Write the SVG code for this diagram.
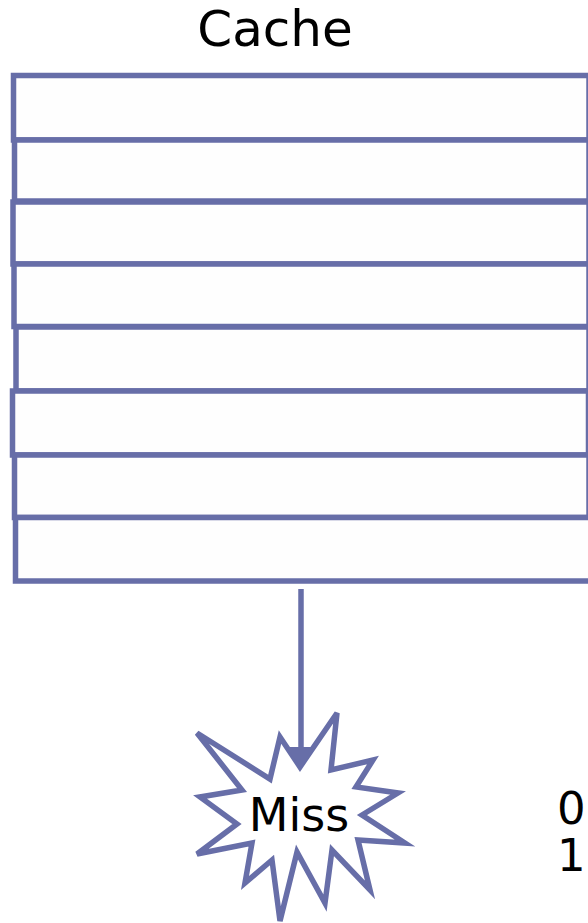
<svg xmlns="http://www.w3.org/2000/svg" width="588" height="923" viewBox="0 0 588 923">
<style>
.row{fill:#fefefe;stroke:#676EA8;stroke-width:5.5}
.lbl{font-family:"DejaVu Sans",Verdana,sans-serif;fill:#000}
.con{stroke:#676EA8;stroke-width:5.5;fill:none}
</style>
<rect width="588" height="923" fill="#fff"/>
<g id="title"><text class="lbl" x="275" y="46" font-size="50" text-anchor="middle">Cache</text></g>
<g id="cache">
<rect id="row1" class="row" x="13.5" y="75.5" width="575.5" height="64.5"/>
<rect id="row2" class="row" x="14.5" y="140" width="574.5" height="61"/>
<rect id="row3" class="row" x="13" y="202" width="576" height="62"/>
<rect id="row4" class="row" x="14" y="264" width="575" height="62.5"/>
<rect id="row5" class="row" x="16" y="327" width="573" height="64"/>
<rect id="row6" class="row" x="12.5" y="391" width="576" height="64"/>
<rect id="row7" class="row" x="14.5" y="455" width="574.5" height="62.5"/>
<rect id="row8" class="row" x="15.5" y="517.5" width="576" height="63.5"/>
</g>
<g id="miss">
<polygon class="con" style="fill:#fff" points="197,733 270,779 280,737 300,767 337,713 331,770 373,760 356,787 398,793 362,815 405,843 358,840 370,890 332,850 325,903 297,852 280,921 272,860 245,883 252,843 197,854 237,824 200,797 242,790"/>
<text class="lbl" x="299" y="831" font-size="46" text-anchor="middle">Miss</text>
</g>
<g id="connectors">
<line class="con" x1="301" y1="589" x2="301" y2="750"/>
<polygon points="286,747 316,747 301,768" fill="#676EA8"/>
</g>
<g id="bits">
<text class="lbl" x="557" y="824" font-size="45">0</text>
<text class="lbl" x="557" y="871" font-size="45">1</text>
</g>
</svg>
